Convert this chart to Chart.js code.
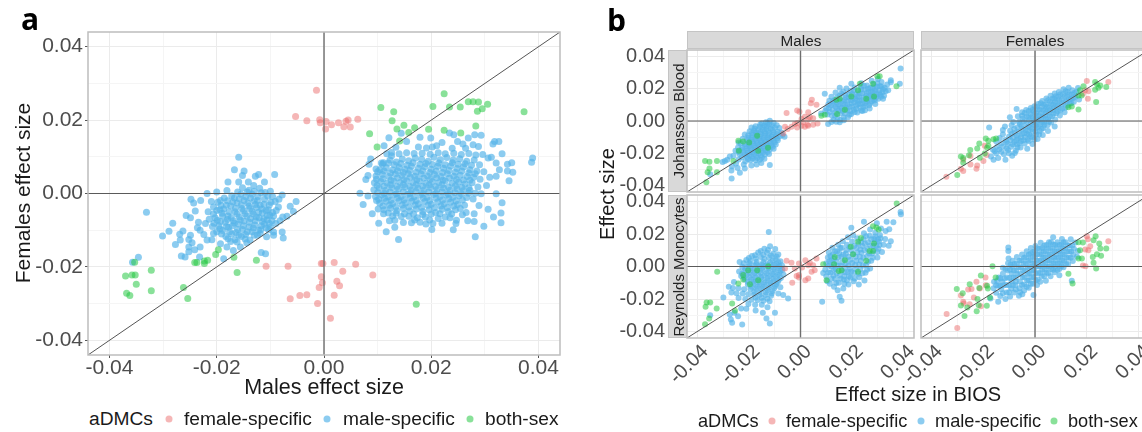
<!DOCTYPE html>
<html lang="en">
<head>
<meta charset="UTF-8" />
<title>aDMCs effect sizes</title>
<script src="https://cdn.jsdelivr.net/npm/chart.js"></script>
<style>
  html, body { margin: 0; background: #fff; overflow: hidden; width: 1142px; height: 432px; }
  body { position: relative; font-family: "Liberation Sans", Arial, sans-serif; color: #1a1a1a; }
  canvas { position: absolute; }
  .txt { position: absolute; white-space: nowrap; line-height: 1; }
  .vert { transform: translate(-50%, -50%) rotate(-90deg); }
  .mid { transform: translate(-50%, -50%); }
  .tag { font-family: "Open Sans", sans-serif; font-weight: 700; font-size: 30px; color: #000; }
  .strip { position: absolute; box-sizing: border-box; background: #d9d9d9; border: 1.5px solid #c4c4c4; }
  .dot { position: absolute; width: 7px; height: 7px; border-radius: 50%; transform: translate(-50%, -50%); }
</style>
</head>
<body>
<canvas id="a"></canvas>
<canvas id="bMalesJ"></canvas>
<canvas id="bFemalesJ"></canvas>
<canvas id="bMalesR"></canvas>
<canvas id="bFemalesR"></canvas>
<script>
  const tickValues = [-0.04, -0.02, 0, 0.02, 0.04];
  const tickLabels = ["-0.04", "-0.02", "0.00", "0.02", "0.04"];
  const minorTicks = [-0.03, -0.01, 0.01, 0.03];
  const limit = [-0.044, 0.044];
  const seriesNames = ["female-specific", "male-specific", "both-sex"];

  // all point lists are flat x,y pairs, in units of 0.001
  const aFemale = [-1.4,28.1, -5.3,21, -3.2,19.8, -.8,20.1, -.7,19.3, .4,19.6, .3,17.6, 1.4,18.7, 2.7,19.3, 3.7,18.2, 4.1,19.7, 4.5,20, 4.9,18.1, 6.3,20.2,
    -10.8,-19.8, -6.7,-19.8, -6.3,-28.7, -4.5,-27.8, -3.2,-27.6, -1.2,-30, -.5,-19.1, -.2,-19.1, 1.9,-18.8, 3.5,-21.2, 5.9,-19.3, 9.1,-22.2, -.5,-22.7, 2.4,-23.9, 2.9,-25.1, -.3,-24.3, -.9,-25.6, 1.9,-27.7, 1.2,-34];
  const aBoth = [-35.3,-18.7, -32.2,-20.9, -37,-22.5, -35.8,-22.2, -35.2,-22.2, -35,-24.7, -36.8,-27.2, -36.2,-27.8, -32.2,-26.5, -26.2,-25.6, -25.4,-28.6, -24.1,-18.8, -23.7,-18.8, -22.3,-19.1, -21.7,-18.2, -22.3,-18.4, -20.2,-16.6, -19.7,-15.3, -16.8,-17.4, -16.2,-21.5, -12.6,-18.2,
    10.6,23.4, 13,22.3, 12.7,19.8, 13.6,17.6, 14.9,18.6, 15.8,16.6, 16.9,17.9, 19.5,17.5, 8.5,16.3, 9.9,12.7, 14.1,14.3, 20.3,23.7, 22.4,27.2, 23.4,23.6, 25.4,23.6, 26.9,25, 27.8,25, 28.8,24.9, 30.5,24.3, 29.5,23.1, 28.6,22.4, 37.3,22.3, 28.3,18.4, 22.4,17.2, 25.5,16.5, 17.2,-30.2];
  const aMale = [
    // left cloud, outer points
    -33.1,-5.1, -15.9,9.9, -34.6,-17.4, -35.7,-18.7, -30.1,-11.6, -28.9,-10.3, -28.2,-8.1, -27.7,-13.9, -26.6,-17, -25.9,-17.3, -26.9,-11.1,
    -16.7,6.5, -14.9,6.1, -15.2,4.9, -12.8,4.7, -12.2,5.2, -9.2,5.2, -11.1,3.1, -17.9,3.1, -20,.4, -21.8,0, -24.8,-1.6, -23,-1.9, -24.3,-2.6, -24,-4.8, -25.7,-6, -24.9,-6.6, -26.3,-10.2, -26.8,-12.7, -25.2,-12.5, -25.2,-14.6, -25.2,-15.9, -23.2,-17.3, -23.1,-14.6, -20.9,-12.6, -18.7,-17.8, -11.7,-16.1, -10.9,-16.4, -16.9,-15.5, -7.6,-12.1, -7.8,-10.5, -9.4,-11.4, -5.7,-4.9, -5.2,-2.2, -6.3,-3.5, -7.8,-.4, -10,.6, -7.7,-6.4, -6.9,-6.2, -8.5,-3.7, -23.1,-10, -22.1,-8.2, -23.4,-7.8, -20.6,-3.7, -19.3,-1.9, -18.1,.8, -15.9,3.1, -14.1,3.1, -20.6,-10.9, -21.8,-12.7, -19.3,-13.7, -18.1,-14.6, -15.6,-14.6, -13.8,-12.7, -11.9,-10.9, -10.7,-11.8, -9.4,-10.5, -24.9,-11.4, -24.6,-13.4, -24.1,-15.3, -22.4,-11.2, -23.6,-9.3,
    // left cloud, core
    -19.8,-2.4, -18.6,-1.2, -17.2,-.6, -16.1,.4, -15.2,1.6, -14,.9, -13.1,2.2, -12,1.4, -11,.3, -9.6,-.8, -9.1,-2.2, -8.9,-4.6, -9.4,-6.1, -9,-8.2, -10,-9.2,
    -20.6,-5.6, -19.4,-4.4, -18.2,-3.2, -17,-2.3, -15.8,-1.4, -14.6,-.9, -13.4,-.2, -12.3,-.8, -11.1,-1.6, -10.2,-3.1, -19.9,-7.3, -18.9,-6.1, -17.7,-5, -16.5,-4, -15.4,-3.1, -14.2,-2.6, -13,-2, -11.9,-3.2, -10.8,-4.6, -10.1,-5.9,
    -20.8,-9, -19.6,-8.8, -18.4,-7.8, -17.3,-6.6, -16.2,-5.6, -15,-4.7, -13.8,-4.1, -12.6,-3.8, -11.5,-5.3, -10.6,-7.2, -20,-10.4, -18.9,-10.1, -17.8,-9.2, -16.7,-8.1, -15.6,-7.2, -14.4,-6.2, -13.2,-5.6, -12.1,-6.6, -11.1,-8.4, -10.3,-9.9,
    -18.3,-11.7, -17.2,-11, -16.1,-9.8, -15,-8.8, -13.9,-7.8, -12.8,-7.4, -11.7,-8.8, -16.6,-12.6, -15.4,-11.7, -14.3,-10.4, -13.2,-9.4, -12.2,-10, -17.4,-13.1, -14.7,-12.4, -13,-11.4, -21.4,-7, -21.6,-5, -21,-2.2, -8.2,-7.4, -8.4,-1.6,
    -19.2,-3.3, -18,-2, -16.7,-1.2, -15.5,-.2, -14.3,.4, -13,.6, -11.7,.2, -10.5,-.7, -9.9,-2.4, -20,-4.6, -18.7,-4.2, -17.4,-3.4, -16.2,-2.6, -14.9,-1.9, -13.7,-1.2, -12.4,-1.9, -11.2,-2.9, -10.4,-4.4, -9.6,-5.2, -20.3,-6.6, -19,-5.4, -17.9,-6.1, -16.6,-5, -15.3,-4.1, -14,-3.4, -12.8,-3, -11.6,-4.2, -10.6,-6, -9.7,-7.4,
    -20.5,-8.1, -19.3,-7.6, -18,-7.1, -16.9,-7.4, -15.8,-6.4, -14.7,-5.5, -13.4,-4.9, -12.2,-5.1, -11.2,-6.9, -10.2,-8.2, -19.4,-9.6, -18.2,-9, -17.1,-8.8, -16,-8.3, -14.9,-7.5, -13.7,-6.8, -12.6,-6.4, -11.5,-7.6, -10.8,-9.4, -19.1,-11, -17.6,-10.4, -16.4,-10.6, -15.2,-9.8, -14,-9.1, -12.9,-8.6, -11.8,-9.9, -15.9,-11.4, -14.6,-11.2, -13.4,-10.4, -12.4,-11.4, -17.9,-12.3, -16.2,-13.2, -14.4,-13.4,
    // right cloud, outer points
    38.9,9.7, 38.7,8.5, 35,8.4, 34.2,8, 35.2,5.8, 34.2,6.1, 34.5,3.5, 33.2,-2.5, 33,-5.3, 33,-8, 31.6,-6.4, 30.6,-4.3, 29.8,-8.9, 28,-7.6, 28.2,-11.8, 24.1,-9.9, 20.1,-9.8, 20.3,-8.2, 13.9,-12.5, 11.6,-10.4, 10.2,-8.1, 9,-5.5, 7.3,-3, 6.7,.1, 8.2,-.7, 7.8,3.8, 8.2,4.9, 8.4,8, 8.7,9.4, 11.2,13, 12.1,15.2, 14.4,16.4, 17.9,15.3, 19.9,15.1, 22,13.9, 23.4,16.5, 24.2,16, 26.9,15.1, 28.1,16, 29.3,15.9, 31.5,13.5, 32.6,14.2, 31.8,14.2, 33.2,10.8, 32.1,8.3, 32.7,6.5, 32.1,4.7, 31.2,9.9, 30.6,9.7, 29.6,10.6, 28.8,12.8, 27.8,13.3, 25.9,13.5, 24.9,14.2, 23.9,12.3, 21,13, 19.1,12.4, 17.6,12.7, 15.4,14.2, 12.6,10.3, 11.7,10.8, 10.7,8.3, 9.7,6.7, 30.3,2.2, 30.9,4.4, 32.1,-.1, 29.3,-.1, 28,-5.5, 28.9,-3.3, 26.5,-5.2, 24.7,-7.3, 22.6,-6.4, 17.9,-7.8, 16.3,-8, 13.2,-7.3, 11.1,-5.5, 10.1,-4.2, 9.8,-1.9,
    // right cloud, core
    11.1,8.4, 12.3,9.1, 13.5,8.6, 14.6,9.4, 15.8,8.9, 17,9.7, 18.2,9.3, 19.4,8.8, 20.5,9.9, 21.7,9.2, 22.9,9.8, 24.1,9.1, 25.3,9.5, 26.6,8.8, 28,9.1, 29,7.8,
    10.4,6.5, 11.6,7, 12.8,6.4, 14,7.1, 15.1,6.6, 16.3,7.4, 17.6,6.9, 18.8,7.3, 20,6.6, 21.2,7.4, 22.3,6.9, 23.6,7.5, 24.8,6.8, 26,7.2, 27.2,6.5, 28.5,6.1, 29.8,5.9,
    9.7,4.8, 10.9,5.2, 12.1,4.6, 13.3,5.3, 14.5,4.9, 15.7,5.4, 16.9,4.7, 18.1,5.3, 19.3,4.8, 20.6,5.2, 21.8,4.6, 23,5.4, 24.2,4.7, 25.4,5, 26.7,4.6, 27.9,4.4, 29.1,3.9,
    9.4,2.9, 10.6,3.3, 11.8,2.8, 13,3.4, 14.2,3, 15.4,3.5, 16.6,2.9, 17.8,3.4, 19,2.8, 20.2,3.3, 21.4,2.9, 22.6,3.5, 23.9,2.8, 25.1,3.1, 26.3,2.6, 27.6,2.9, 28.7,1.8,
    9.3,1, 10.3,1.5, 11.5,.9, 12.7,1.6, 13.9,1.2, 15.1,1.7, 16.3,1, 17.5,1.5, 18.7,1, 19.9,1.6, 21.1,1.1, 22.3,1.5, 23.5,.9, 24.8,1.3, 26,.8, 27.2,.9, 28.2,.1,
    9.6,-.8, 10.8,-.4, 12,-.9, 13.2,-.3, 14.4,-.8, 15.6,-.2, 16.8,-.9, 18,-.4, 19.2,-1, 20.4,-.3, 21.6,-.8, 22.8,-.4, 24,-1, 25.2,-.6, 26.6,-1.1, 27.8,-1.5,
    10.4,-2.6, 11.6,-2.1, 12.8,-2.7, 14,-2, 15.2,-2.6, 16.4,-2.1, 17.6,-2.8, 18.8,-2.2, 20,-2.9, 21.2,-2.3, 22.4,-2.8, 23.6,-2.4, 24.9,-3, 26.2,-3.2,
    11.2,-4.4, 12.4,-4, 13.6,-4.7, 14.8,-4.1, 16,-4.8, 17.2,-4.2, 18.4,-4.9, 19.6,-4.4, 20.8,-5.2, 22,-4.3, 23.2,-4.9, 24.5,-4.4, 25.8,-5.8,
    12.8,-6.1, 14.4,-6.3, 15.8,-6.2, 17.4,-6.6, 18.9,-6.4, 21.3,-6.8, 23.5,-6.6, 12.2,-7.4, 14.8,-7.9, 22,-8.1, 26.8,-7.4, 19,-8.3,
    12.6,11.2, 14,10.8, 15.4,11.1, 16.8,10.9, 18.3,11, 19.8,10.7, 21.3,11.1, 22.6,10.8, 24.2,11, 25.6,10.6, 27,10.9, 28.3,10.5, 13.4,12.6, 20.2,12.7, 26.4,12.3,
    10.9,8, 12,8.3, 13.1,7.8, 14.3,8.2, 15.5,7.7, 16.6,8.4, 17.9,8, 19,8.2, 20.2,7.9, 21.4,8.3, 22.6,7.8, 23.9,8.4, 25,8, 26.3,8.1, 27.5,7.7,
    10,5.9, 11.2,6.1, 12.4,5.6, 13.7,6.2, 14.8,5.7, 16,6.3, 17.2,5.8, 18.4,6.2, 19.7,5.7, 20.9,6.1, 22.1,5.7, 23.3,6.3, 24.5,5.8, 25.7,6.1, 27,5.6, 28.2,5.4,
    9.8,3.9, 11,4, 12.5,3.7, 13.7,4.3, 14.9,3.8, 16.1,4.4, 17.3,3.8, 18.6,4.2, 19.8,3.9, 21,4.3, 22.2,3.7, 23.4,4.2, 24.7,3.8, 26,3.7, 27.2,3.6,
    9.9,2.2, 11.2,2, 12.4,2.3, 13.6,1.9, 14.8,2.4, 16,1.9, 17.2,2.4, 18.4,2, 19.6,2.3, 20.8,1.9, 22,2.4, 23.2,1.8, 24.5,2.1, 25.7,1.7, 27,1.6,
    10,.3, 11.2,.1, 12.3,.4, 13.5,0, 14.8,.5, 16,.1, 17.1,.6, 18.3,.1, 19.5,.4, 20.8,.1, 22,.5, 23.1,0, 24.4,.3, 25.6,-.1, 27,.1,
    10.2,-1.6, 11.3,-1.3, 12.5,-1.8, 13.7,-1.2, 14.9,-1.7, 16.1,-1.2, 17.2,-1.9, 18.5,-1.3, 19.7,-1.9, 20.9,-1.3, 22.1,-1.8, 23.3,-1.4, 24.6,-2, 25.8,-1.8,
    11,-3.4, 12.2,-3.2, 13.4,-3.6, 14.6,-3.1, 15.8,-3.7, 17,-3.2, 18.2,-3.8, 19.4,-3.2, 20.6,-3.9, 21.8,-3.4, 23,-3.8, 24.2,-3.4, 25.4,-4.1,
    12,-5.3, 13.4,-5.4, 15,-5.5, 16.7,-5.6, 18.4,-5.7, 20,-5.6, 21.6,-5.5, 23.8,-5.6, 13.2,-9.2, 16.9,-7.2, 19.7,-7.2, 24.6,-8.2
  ];

  const mjFemale = [-5.4,5, -1.3,6.5, -.4,5.8, 4.4,13.1, 4,11, 3,5.4, 6.2,10, 1.7,2.7, 4.9,1.7, 3,1.3, 6.6,-1.5, 2.7,-2.3, .4,-2.9, -1.2,-1.3, -3.5,-3.5, -1.3,-4, -6,-3.5, -5,-5, -6.7,-7.7, .4,1.2, 1,-.8, 3.6,2.3, -2.2,-1.9, 1.7,-3.5, 3,-2.9, 4.9,-2.3];
  const mjBoth = [-37,-24.8, -35.3,-25.2, -32.4,-24.8, -35.3,-29.4, -36,-31.7, -32.4,-31.7, -36.5,-37.9, -26,-24.8, -24.1,-12.3, -22.2,-12.7, -19.9,-13.3, -16.8,-9.2, -23.9,-18.5, -16.4,-18.5, -12.6,-16.5,
    15.2,13.8, 13.9,13.1, 19.7,15.2, 22.3,19, 23,23.1, 28.1,23.1, 29.8,27.7, 30.7,27.7, 37.2,21.5, 25.5,13.8, 28.5,15.2, 17.2,6.9, 14.2,4.4, 9.4,3.8, 8.1,3.3];
  const mjMale = [38.8,32.5, 38.5,23.1, 35,25.2, -26.7,-35.6, -11.9,-27.3, -23.5,-32, -35,-33, -29.3,-24.8,
    // lower left cloud
    -11.9,.2, -13.4,-.8, -15,-1.6, -10.4,-1.2, -9.2,-2.6, -12.2,-2.4, -14,-3, -15.8,-3.6, -17.4,-3.2, -19,-4, -8.2,-4.4, -9.9,-4.2, -11.6,-4.6, -13.2,-5, -14.8,-5.6, -16.4,-5.4, -18,-6, -19.7,-6.4, -7.4,-7.2, -8.8,-6.6, -10.5,-7, -12.1,-7.4, -13.7,-7.8, -15.3,-8, -17,-8.2, -18.6,-8.6, -20.3,-9, -21.6,-8.4,
    -8,-9.4, -9.6,-9.6, -11.2,-9.8, -12.8,-10.2, -14.4,-10.6, -16,-11, -17.6,-11.2, -19.2,-11.6, -20.8,-11.8, -22.4,-11, -8.8,-12, -10.4,-12.4, -12,-12.6, -13.6,-13, -15.2,-13.4, -16.8,-13.6, -18.4,-14, -20,-14.4, -21.6,-14.2, -23.2,-14, -24,-13.4, -9.6,-14.6, -11.2,-15, -12.8,-15.4, -14.4,-15.8, -16,-16, -17.6,-16.4, -19.2,-16.8, -20.8,-17, -22.6,-16.6, -24.2,-16.4,
    -10.4,-17.2, -12,-17.8, -13.6,-18.2, -15.2,-18.6, -17,-19, -18.6,-19.4, -20.4,-19.6, -22.2,-19.4, -24,-19.2, -25.2,-18.4, -12.2,-20.4, -13.8,-20.8, -15.4,-21.2, -17.2,-21.6, -19,-22, -20.8,-22.2, -22.8,-22.4, -26,-21.6, -27.4,-22, -14,-23.4, -15.8,-24, -17.4,-24.4, -19.4,-24.4, -21.4,-25, -28.4,-24, -30.2,-25.4, -15.2,-26, -17,-27, -19,-27.6, -22,-27, -25,-26.4, -26.6,-28, -24.4,-29.2, -21.6,-29.4, -26.8,-30.6, -7,-8.6, -6.2,-9.8, -15.6,-2.2, -17.8,-4.6,
    -12.8,-1.4, -11.1,-2.8, -13.2,-3.4, -14.6,-4, -10.8,-5.6, -12.6,-6, -14,-6.6, -15.6,-6.8, -17.2,-7, -18.8,-7.4, -9.2,-8, -10.8,-8.6, -12.4,-8.8, -14,-9.2, -15.6,-9.6, -17.2,-9.8, -18.8,-10.2, -20.2,-10.4, -9,-10.8, -10.6,-11, -12.2,-11.2, -13.8,-11.8, -15.4,-12.2, -17,-12.4, -18.6,-12.8, -20.2,-13.2, -10,-13.4, -11.6,-13.8, -13.2,-14.2, -14.8,-14.6, -16.4,-14.8, -18,-15.2, -19.8,-15.6, -21.4,-15.8, -10.8,-16, -12.4,-16.6, -14,-17, -15.8,-17.4, -17.4,-17.8, -19,-18, -20.8,-18.4, -23,-18, -12.8,-19.2, -14.6,-19.6, -16.2,-20.2, -18,-20.4, -19.8,-21, -21.6,-20.8, -23.6,-20.6, -15,-22.6, -16.8,-23, -18.6,-23.2, -20.4,-23.6, -24,-23.8,
    // upper right cloud
    9.4,16.9, 15.2,20.6, 19.7,23.1, 23.6,23.4, 30,26, 35,24, 32.6,20.6, 34,19, 32,13.8, 28.8,12.7, 23.6,6.5, 19.7,4.4, 15.2,-.8, 10.7,-1.9, 33.6,22.6, 31.4,24.2, 27.6,25,
    8,4.6, 9.6,6.2, 11,8, 12.2,3.2, 12.8,.6, 13.6,5.4, 14.4,2.2, 10.8,10.4, 11.2,12.6, 12,15, 12.8,10.4, 13.2,13, 13.6,17.6, 14.2,7.8, 14.8,10.2, 15.2,15.6, 15.6,5, 16,8.2, 16.2,12.4, 16.6,18.2, 16.8,2.4, 17.2,10.2, 17.6,14.4, 17.8,20.2, 18,6.6, 18.4,12.6, 18.8,16.4, 19,8.8, 19.4,18.8, 19.8,11, 20.2,14.4, 20.6,7, 21,20.8, 21.2,16.6, 21.6,9.4, 21.8,12.8, 22.4,18.4, 22.6,15, 23,10.6, 23.4,21.2, 23.8,13, 24,17, 24.4,8.6, 24.8,19.4, 25,11.2, 25.4,15.6, 25.8,22, 26,13.2, 26.4,18.2, 26.6,9.8, 27,20.4, 27.2,15.8, 27.6,12.2, 28,17.8, 28.4,22.8, 28.6,14.6, 29,20, 29.4,16.8, 29.8,23.4, 30.2,13.8, 30.6,19, 31,16.2, 31.4,21.4, 31.8,17.8, 32.4,15.6, 33,18.4, 25,6.6, 22,5.2, 18.4,2.4, 15.4,.6, 12,-.6, 26.8,7.8, 29,10.6,
    10,7.8, 10.4,4, 11.4,5.6, 11.8,9.6, 12.4,7, 12.6,12.2, 13.4,3.2, 13.6,8.8, 14,11.4, 14.2,14.6, 14.8,6.4, 15,12.4, 15.4,8.8, 15.8,17, 16.4,6.2, 16.6,10.6, 17,13.2, 17.2,4.6, 17.4,16.2, 17.8,8.2, 18.2,10.4, 18.8,14.6, 19.2,6, 19.6,12.8, 20,16.8, 20,9, 20.6,19, 20.8,11.6, 21.2,13.8, 21.6,7.6, 22,15.4, 22.2,10.6, 22.8,12.6, 23,17, 23.2,8.2, 23.6,19.6, 24,11, 24.4,14.6, 24.6,21.8, 25.2,9.4, 25.6,17.4, 25.8,12.2, 26.2,20, 26.4,14.8, 27,11, 27.4,18.2, 27.8,15, 28,20.8, 28.4,13.4, 28.8,18.6, 29.4,14.8, 29.6,21.2, 30.4,17.2, 30.8,21.6, 31.2,15, 32,19.6, 24,6.2, 21,5.6, 19,3.8, 16.8,.4, 13.8,-.4];

  const fjFemale = [20,24.8, 28.3,24.2, 19.4,19, 20.6,18.5, 20.4,13.8, 18.5,16.9, -34.2,-34.6, -27.7,-31, -28.6,-29.6, -24.9,-26.9, -22.3,-27.5, -22.6,-29.6, -19.9,-24.8, -24.9,-21.7, -19.4,-15.4, -18.7,-21, -27.7,-23.8];
  const fjBoth = [-30,-33.5, -28.6,-22, -27.7,-23, -27.7,-25.8, -25.5,-21.2, -25,-18, -22.3,-17, -21.5,-14, -21.3,-22.7, -19,-10.8, -18,-12.3, -18.5,-16.5, -18,-15.4, -16,-11.3, -15,-10.8, -19.4,-20.2,
    16.8,7.1, 23.6,11.7, 12.9,8.5, 14.2,9, 16.8,15.8, 18,15.8, 18.7,21.5, 23.2,24.2, 23.9,22.7, 25.2,22, 27.5,21, 23.2,19.4, 24.5,20.6, 17.4,19];
  const fjMale = [-17.7,-4, -9.7,2.3, -7.1,7.5, -17,-22, -16,-24, -15,-20, -14.2,-23, -13,-19, -11.4,-24, -11,-17, -16.2,-17.8, -14.6,-16, -13,-14, -15,-12.6, -13.6,-10.6, -12.4,-8.2, -11.4,-11.8, -12.4,-5.6, -11.6,-3.4,
    -10,-20, -9.2,-16, -8.8,-21.6, -8,-13, -10.6,-14.2, -10,-9.6, -9.6,-6, -9,-2.6, -8.4,-.6, -8.6,-10.4, -7.8,-7.4, -7.4,-18.4, -7,-14.6, -6.6,-10.6, -6.8,-4, -6.2,-.6, -6.6,3, -5.6,-16.4, -5.4,-12.4, -5,-8, -5.2,-3.2, -4.8,1.4, -5,5.4, -4,-14, -3.8,-10, -3.6,-5.6, -3.4,-1.6, -3.2,3, -3.4,6.8,
    -2.4,-12.4, -2.2,-8.4, -2,-4, -2.2,.6, -1.8,4.4, -1.6,8, -1,-10, -.8,-6.4, -.6,-2.4, -.8,1.8, -.4,5.8, -.2,9.2, .4,-8.4, .6,-4.4, .8,-.6, .6,3.2, 1,7, 1.2,10.6, 1.8,-6.2, 2,-2.2, 2.2,1.4, 2.4,5, 2.6,8.8, 2.8,12.4, 3.2,-4.4, 3.6,-.6, 3.8,3.2, 4,7, 4.2,10.4, 4.4,14, 4.8,-2.6, 5,1.2, 5.2,5, 5.4,8.4, 5.8,12, 6,15.6,
    6.2,-1, 6.6,3, 6.8,6.6, 7,10, 7.4,13.8, 7.6,17, 7.8,1, 8.2,4.8, 8.4,8.2, 8.6,11.6, 9,15, 9.2,18, 9.6,3.4, 9.8,6.6, 10.2,10, 10.4,13.4, 10.8,16.6, 11,19.6, 11.4,5.4, 11.8,8.4, 12,12, 12.4,14.8, 12.6,18, 13,20.6, 13.4,10.8, 13.8,13.6, 14.2,16.4, 14.4,19, 15,12, 15.6,15, 16,18.2, 16.6,20.4, 17,13.4, -3,-17.2, -1,-14.2, 1,-11.2, 3,-8.6, 5,-6.2, 7.6,-3.4,
    -15.6,-18.8, -13.8,-17.6, -12.4,-15.8, -12,-20.6, -11,-13, -10.4,-18, -9.4,-11.8, -9,-8, -8.6,-14.4, -8,-5, -7.8,-19.8, -7.2,-11.8, -7,-9, -6.8,-16.4, -6.2,-6.6, -6,-13.6, -5.8,-1.8, -5.4,-10, -5,3.2, -4.6,-4.8, -4.4,-12, -4.2,-7.6, -4.2,-.2, -4,5, -3,-8, -2.8,-11.6, -2.6,-3.4, -2.6,2.4, -2.6,-6, -2.4,6.2, -1.6,-9.4, -1.4,-1.2, -1.2,-5, -1,3, -1,6.8, -.2,-11.4, -.2,-.4, .2,-6.4, .2,1.2, .2,-2.6, .4,5, .6,8.8, 1.2,-3.6, 1.4,.6, 1.6,-8.4, 1.6,3.4, 1.8,7, 2.2,11, 2.6,-5, 2.8,-.8, 3,3, 3.2,6.6, 3.4,10.2, 3.6,-2.4, 4.2,1.4, 4.4,5.2, 4.6,8.6, 5,12.8, 5.4,-.4, 5.8,3, 6,6.8, 6.4,10.4, 6.8,14, 7.2,4.6, 7.4,8.2, 7.8,11.8, 8,15.4, 8.8,6.2, 9,9.8, 9.4,13.2, 9.8,16.6, 10.6,7.8, 11,11.4, 11.4,15, 11.8,18.4, 12.6,9.8, 13,13.2, 13.2,16.4, 14,11, 14.8,14.2, 15.2,17.4];

  const mrFemale = [-5.4,3.5, -3.5,2.3, -.6,1.8, 1.9,3.9, 3.6,2.3, 6.2,4.9, 4.9,.8, 5.5,-2.3, 4.3,-3.3, 3,-7.4, 1.9,-8.4, -.6,-5.3, -1.5,-5.9, -3.2,-10, -6,-1.2, .6,-.6, -.6,-6.8, -2.2,-1.2, 3,.8];
  const mrBoth = [37.3,38.7, 28.1,24.8, 29.4,24, 30.3,22.7, 23.4,17.6, 22.3,15.2, 28.5,14.1, 26.8,9.6, 28.1,9.6, 19.5,12.1, 20.4,7.6, 25.5,3.5, 17.2,3.9, 13.3,5.9, 13,1.4, 15.9,-2.3, 14.8,-2.7, 22.3,-3.3, 10.1,-8.4, 8.8,1.4,
    -32.3,-3.3, -22.2,-5.3, -22.2,-8, -24.1,-10.5, -20.3,-2.3, -16.8,-2.3, -12.5,.2, -19.6,-10.9, -16.4,-8.4, -26.5,-22.7, -25.4,-27.3, -32.5,-25.8, -36.8,-24.8, -36.4,-22.1, -35,-22.1, -35.4,-32, -37,-35.5];
  const mrMale = [-12.3,21.3, 19.7,23.8, 24.6,27.5, 38.8,33.6, 38.9,32.2, 8.4,-21.7, 15.9,-21.1, 15.2,-18.6, -11.9,-35, -9.9,-28.5, -13.2,-32, -4.8,-19.7, -8.6,-16.6, -6.7,-17.6, -26.5,-34.6, -22.6,-35.7, -29.9,-19, -35,-30,
    // left cloud
    -14,11, -11.8,12.4, -9.8,10.8, -16.4,8.6, -13,8.4, -10.6,7.8, -8.6,7.4, -18.8,6.4, -15.4,5.8, -12.2,5.4, -9.8,4.6, -7.8,3.2, -21,4, -23.6,2.8, -19.4,3.4, -17,3, -14.4,2.8, -11.8,2.4, -9.4,1.6, -7.2,.8, -22.6,-.2, -20.2,.2, -18,.6, -15.8,.2, -13.6,.4, -11.2,-.2, -9,-.8, -7,-2,
    -23.8,-3, -21.6,-2.6, -19.2,-2.4, -17,-2.8, -14.8,-2.2, -12.6,-2.8, -10.4,-3.2, -8.2,-3.8, -6.6,-5, -23,-5.8, -20.8,-5, -18.4,-5.4, -16.2,-5.2, -14,-5.6, -11.8,-5.8, -9.6,-6.2, -7.6,-7, -21.6,-8, -19.2,-8, -17.2,-8.4, -15,-8, -12.8,-8.6, -10.6,-9, -8.8,-9.6, -20.4,-11, -18.2,-10.8, -16,-11, -14,-11.2, -11.8,-11.6, -9.8,-12, -7.8,-12.8,
    -25.8,-9.6, -27.8,-12.4, -26.2,-13.2, -24,-13.4, -21.8,-14, -19.4,-13.8, -17.2,-13.8, -15,-14, -12.8,-14.4, -10.8,-15, -26.8,-16, -24.8,-16.4, -22.4,-16.6, -20.2,-17, -18,-17.2, -15.8,-17.4, -13.6,-17.6, -11.4,-18, -24,-19.4, -21.4,-20, -19,-20.4, -16.6,-20.6, -14.4,-21, -12,-21.4, -20.2,-23, -17.6,-23.6, -15,-23.6, -12.8,-25, -27.4,-29.6, -25.6,-28.4, -23,-25.8, -21,-26, -17.4,-27, -14.6,-28.4, -24.2,-30.6, -27,-32.6,
    -15.4,9.6, -12.6,10.2, -17.6,7, -14.4,7.2, -11.4,6.8, -9.2,6, -20,5.2, -17.4,5, -14,4.6, -10.8,3.6, -8.6,2.6, -22,2, -19.8,1.8, -17.2,1.6, -15,1.2, -12.8,1.4, -10.4,1, -8.2,.2, -21.4,-1.2, -19,-1, -16.8,-1.2, -14.6,-.8, -12.2,-1.2, -10,-1.8, -7.8,-2.6, -22.6,-4.4, -20,-3.8, -17.8,-4, -15.4,-3.8, -13.2,-4.2, -11,-4.6, -8.8,-5, -21.8,-6.6, -19.6,-6.6, -17.4,-6.8, -15.2,-6.6, -12.8,-7, -10.6,-7.6, -8.4,-8.2, -20.4,-9.4, -18.2,-9.4, -16,-9.6, -13.8,-9.8, -11.6,-10.2, -9.4,-10.8, -19,-12.4, -16.8,-12.4, -14.6,-12.6, -12.4,-13, -10.2,-13.4, -18,-15.6, -15.8,-15.8, -13.4,-16, -11.2,-16.6, -17.4,-19, -15,-19.2, -12.8,-19.8,
    // right cloud
    10,-6, 9.6,-2, 10,2, 10.6,5.6, 11,8.6, 11.4,-10.6, 11.6,-3.8, 12,0, 12,3.8, 12.6,7.6, 12.4,11.6, 13,-12.4, 13.4,-7.6, 13.6,-1.4, 14,3, 14.2,9.4, 14.6,13.4, 14.8,-10, 15.2,-5.6, 15.6,.4, 15.8,6, 16,11.6, 16.4,15.6, 16.6,-13.6, 16.8,-8, 17.2,-3.6, 17.6,2, 17.6,8, 18,13.4, 18.4,18, 18.6,-11, 18.8,-6, 19.2,-1.4, 19.4,4.2, 19.8,10, 20,15.4, 20.4,19.2, 20.6,-9, 20.8,-4, 21.2,1, 21.4,6, 21.8,11.6, 22,17.4, 22.6,-11, 22.8,-6.6, 23.2,-1.6, 23.4,3.6, 23.6,8.4, 24,12.6, 24.4,17, 24.6,20.4, 24.8,-8.6, 25.2,-3.8, 25.4,1, 25.8,6.4, 26,11, 26.2,15, 26.8,19, 27,22.8, 27,-1.2, 27.4,3.6, 27.8,8, 28.2,12.6, 28.6,17, 29,20.8, 29.6,26.6, 29.8,5.6, 30.2,11, 30.4,15.4, 30.8,19.4, 31.2,23.4, 31.6,9, 32.2,13.4, 32.8,17, 33,21.8, 33.4,27.6, 34.4,23, 35,15.6, 34.2,12.8, 36,27.2, 12.8,-5.6, 10.4,-9, 14.4,-14.6, 8.8,-4,
    10.8,-3.6, 11,.4, 11.2,3.2, 11.6,6.4, 12,-7.6, 12.8,-2.2, 13,1.6, 13,5, 13.4,9.4, 13.8,-10.2, 14,-4.2, 14.4,.4, 14.6,5.6, 15,8.2, 15.4,11.4, 15.6,-7.6, 16,-2.6, 16.2,2.6, 16.6,7.4, 17,-10.6, 17,-5.8, 17.2,-.8, 17.4,4.6, 17.8,10.2, 18,-8.4, 18.4,-3.4, 18.6,.8, 18.6,6, 19,12, 19.4,-6.8, 19.6,-3.2, 20,2.2, 20.2,7.6, 20.8,12.6, 21,-7.4, 21.4,-1.6, 21.6,3.6, 22,8.6, 22.4,14, 22.4,-4.4, 22.8,1.2, 23,6, 23.2,10.4, 23.6,15, 24,-4.2, 24.2,.6, 24.4,5.4, 24.8,10, 25,14, 25.4,18.6, 25.8,-2, 26.2,3, 26.6,8, 27,13, 27.4,16.8, 28,5.4, 28.4,10, 28.8,15, 29,18.4, 29.4,12.6, 29.8,9, 30,16.8, 30.6,13.2, 31,17.4];

  const frFemale = [20,18.6, 20.4,16.8, 21.3,12.5, 19.4,10.5, 20.6,10, 28.3,15.6, 18.5,.6, 19.5,.2, -34.1,-29.3, -30,-37.9, -28.6,-17.8, -25.8,-14.1, -24.5,-13.9, -22.6,-9.4, -19.1,-6.8, -21.3,-13.5, -23.6,-19, -27.7,-21.7, -27.5,-22.7, -25.2,-23.2, -20.9,-24.4, -19,-11.5];
  const frBoth = [-30.2,-13.9, -27.9,-16.4, -25.2,-10.9, -20.9,-5.5, -21.5,-13.3, -18.5,-11.9, -18.2,-13.5, -22.2,-20, -28.6,-24, -26.1,-25.2, -27.2,-30.5, -22.5,-27.5, -21.7,-23.8, -18.6,-24.2, -17.4,-19, -16.4,.2, -15.2,-6.8,
    23.4,18.6, 24.8,14.1, 22.6,16.2, 18.5,14.8, 16.8,15, 25.2,11.1, 27.5,11.1, 23.9,7.6, 22.3,5.9, 25.5,6.6, 22.6,2.3, 23.6,-1.2, 18.1,4.9, 16.8,4.9, 17.4,10, 12.9,-4.5, 14.5,-10.5];
  const frMale = [7,18, -10.3,11.7, -10.3,9.6, 14.2,-8.8, -.6,-17.6, -4.9,-17, -14.2,-21.7, -17.2,-19.7, -16,-13.4, -15.8,-9.4, -15,-16.2, -14.2,-11.8, -14,-6.8, -13.4,-18.2, -13,-14, -12.6,-9.4, -12.4,-4.4, -12.4,-.8, -11.4,-20, -11,-16, -11,-11.4, -10.8,-6.8, -10.6,-2.4, -10.4,2, -10.2,5,
    -9.6,-18.4, -9.2,-13.6, -9,-9, -9,-4.4, -8.8,-.2, -8.6,3.6, -8,-16, -7.6,-11.4, -7.4,-6.8, -7.2,-2.4, -7,1.8, -7,5.8, -6.2,-18, -6,-13.4, -5.8,-9.2, -5.6,-4.6, -5.4,-.4, -5.2,3.8, -5,7.4, -4.2,-14.8, -4.2,-11, -4,-6.8, -3.8,-2.4, -3.6,1.8, -3.4,5.8, -3.2,9.4, -2.4,-13, -2.4,-8.6, -2.2,-4.2, -2,-.2, -1.8,4, -1.6,7.8, -1.6,11.4, -.8,-10.6, -.6,-6.4, -.4,-2.2, -.2,2, 0,5.8, 0,9.4, .2,12.6,
    .8,-11.4, 1,-8, 1.2,-4, 1.4,0, 1.6,3.6, 1.8,7.6, 1.8,11, 2.2,14.6, 2.6,-6, 2.8,-2, 3,2, 3.2,5.6, 3.4,9.4, 3.6,13, 4.2,-8.8, 4.4,-3.8, 4.6,0, 4.8,3.8, 5,7.6, 5.2,11.4, 5.4,15, 6,-6, 6.2,-1.6, 6.4,2, 6.6,5.8, 6.8,9.6, 7,13.4, 7.6,-3.6, 7.8,0, 8,3.8, 8.2,7.6, 8.4,11.4, 8.6,15, 9.4,-5.4, 9.4,-1.6, 9.6,2, 9.8,5.8, 10,9.6, 10.2,13.4, 10.4,17, 11,-.4, 11.2,3.4, 11.4,7.2, 11.6,11, 11.8,15, 12.8,1.6, 13,5.4, 13.2,9.2, 13.4,13, 13.8,16.8, 14.6,3.4, 14.8,7.2, 15,11, 15.6,14.8, 16.2,6, 16.6,9.6,
    -15,-11.6, -14.6,-8.8, -13.4,-12, -13.4,-7.2, -12.4,-16.4, -12,-11.6, -11.8,-7.4, -11.4,-1.4, -10,-15.8, -10,-11.6, -9.8,-7, -9.6,-2, -9.4,1.2, -8.6,-11.6, -8.4,-6.8, -8.2,-2.4, -8,1.6, -7.4,-14.2, -7.4,-9.2, -6.8,-4.6, -6.4,-.4, -6,3.6, -5.8,-15.8, -5,-11.4, -4.8,-6.4, -4.6,-2.4, -4.4,1.6, -4.2,5.4, -3.2,-12.4, -3,-8.6, -2.8,-4.6, -2.8,-.6, -2.6,3.4, -2.4,7.4, -1.6,-10.6, -1.4,-6.6, -1.2,-2.4, -1,1.8, -1,5.8, -.8,9, .2,-8.4, .2,-4.2, .4,0, .6,3.6, .8,7.6, 1,11.2, 2,-9.4, 2,-4, 2.2,0, 2.4,3.8, 2.6,7.6, 2.8,11.4, 3.6,-5.8, 3.8,-2, 4,1.8, 4,5.6, 4.2,9.6, 4.4,13.2, 5.2,-4, 5.4,-.2, 5.6,3.8, 5.8,7.6, 6,11.4, 6.2,15, 7,-2, 7.2,1.8, 7.4,5.6, 7.6,9.4, 7.8,13.2, 8.6,-2.2, 8.8,1.8, 9,5.6, 9.2,9.4, 9.4,13.2, 10.2,.2, 10.4,3.8, 10.6,7.6, 10.8,11.4, 11,15, 12,1.6, 12.2,5.4, 12.4,9.2, 12.6,13, 13.8,5.4, 14,9.2, 14.4,13];

  // plot frames in page pixels; the Females column runs past the window edge like the original
  const frames = {
    a: { x: 88, y: 32, w: 472, h: 323 },
    bMalesJ: { x: 687, y: 49.5, w: 227, h: 142.5 },
    bFemalesJ: { x: 921, y: 49.5, w: 228, h: 142.5 },
    bMalesR: { x: 687, y: 195, w: 227, h: 143 },
    bFemalesR: { x: 921, y: 195, w: 228, h: 143 }
  };

  const colours = { female: "rgba(236,110,110,0.5)", male: "rgba(86,180,233,0.68)", both: "rgba(40,200,70,0.55)" };

  function toPoints(flat) {
    const out = [];
    for (let i = 0; i < flat.length; i += 2) out.push({ x: flat[i] / 1000, y: flat[i + 1] / 1000 });
    return out;
  }

  function refLine(points, colour, width) {
    return { data: points, showLine: true, pointRadius: 0, borderColor: colour, borderWidth: width, fill: false };
  }

  const frameBox = {
    id: "frameBox",
    afterDraw(chart) {
      const { ctx, chartArea: c } = chart;
      ctx.save();
      ctx.strokeStyle = "#bdbdbd";
      ctx.lineWidth = 1.5;
      ctx.strokeRect(c.left, c.top, c.right - c.left, c.bottom - c.top);
      ctx.restore();
    }
  };

  function drawPanel(id, female, male, both, opts) {
    const f = frames[id], pad = 12;
    const cv = document.getElementById(id);
    cv.width = opts.yw + f.w + pad;
    cv.height = pad + f.h + opts.xh;
    cv.style.left = (f.x - opts.yw) + "px";
    cv.style.top = (f.y - pad) + "px";

    const setTicks = s => { s.ticks = [...tickValues, ...minorTicks].sort((p, q) => p - q).map(v => ({ value: v })); };
    const label = v => { const i = tickValues.indexOf(v); return i < 0 ? "" : tickLabels[i]; };
    const gridColour = ctx => tickValues.includes(ctx.tick.value) ? "#ebebeb" : "#f5f5f5";
    const tickColour = ctx => tickValues.includes(ctx.tick.value) ? "#555" : "rgba(0,0,0,0)";

    new Chart(cv, {
      type: "scatter",
      data: {
        datasets: [
          refLine([{ x: limit[0], y: 0 }, { x: limit[1], y: 0 }], "#5a5a5a", 1.2),
          refLine([{ x: 0, y: limit[0] }, { x: 0, y: limit[1] }], "#6e6e6e", 1.4),
          refLine([{ x: limit[0], y: limit[0] }, { x: limit[1], y: limit[1] }], "#555", 1),
          { label: seriesNames[2], data: toPoints(both), backgroundColor: colours.both, pointRadius: opts.r, borderWidth: 0 },
          { label: seriesNames[0], data: toPoints(female), backgroundColor: colours.female, pointRadius: opts.r, borderWidth: 0 },
          { label: seriesNames[1], data: toPoints(male), backgroundColor: colours.male, pointRadius: opts.r, borderWidth: 0 }
        ]
      },
      plugins: [frameBox],
      options: {
        responsive: false,
        animation: false,
        events: [],
        layout: { padding: { top: pad, right: pad, left: 0, bottom: 0 } },
        plugins: { legend: { display: false }, tooltip: { enabled: false } },
        scales: {
          x: {
            type: "linear", min: limit[0], max: limit[1],
            afterBuildTicks: setTicks,
            afterFit: s => { s.height = opts.xh; s.paddingLeft = 0; s.paddingRight = 0; },
            border: { display: false },
            grid: { color: gridColour, tickColor: tickColour, tickLength: opts.tickLen, lineWidth: 1 },
            ticks: {
              display: opts.xLabels, autoSkip: false, callback: label, color: "#4d4d4d",
              font: { family: "Liberation Sans", size: opts.size },
              maxRotation: opts.rot, minRotation: opts.rot, padding: opts.xPad, labelOffset: opts.xOffset
            }
          },
          y: {
            type: "linear", min: limit[0], max: limit[1],
            afterBuildTicks: setTicks,
            afterFit: s => { s.width = opts.yw; s.paddingTop = 0; s.paddingBottom = 0; },
            border: { display: false },
            grid: { color: gridColour, tickColor: tickColour, tickLength: opts.tickLen, lineWidth: 1 },
            ticks: {
              display: opts.yLabels, autoSkip: false, callback: label, color: "#4d4d4d",
              font: { family: "Liberation Sans", size: opts.size }, padding: opts.yPad
            }
          }
        }
      }
    });
  }

  const bCommon = { r: 3, size: 20, rot: 45, tickLen: 0, xPad: 2, xOffset: 8, yPad: 22 };
  drawPanel("a", aFemale, aMale, aBoth, { yw: 88, xh: 40, r: 3.5, size: 21, rot: 0, tickLen: 3, xPad: -2, xOffset: 0, yPad: 2, xLabels: true, yLabels: true });
  drawPanel("bMalesJ", mjFemale, mjMale, mjBoth, { ...bCommon, yw: 70, xh: 4, xLabels: false, yLabels: true });
  drawPanel("bFemalesJ", fjFemale, fjMale, fjBoth, { ...bCommon, yw: 4, xh: 4, xLabels: false, yLabels: false });
  drawPanel("bMalesR", mrFemale, mrMale, mrBoth, { ...bCommon, yw: 70, xh: 60, xLabels: true, yLabels: true });
  drawPanel("bFemalesR", frFemale, frMale, frBoth, { ...bCommon, yw: 30, xh: 60, xLabels: true, yLabels: false });

  // text and strips around the plots
  function addText(str, x, y, size, cls, colour) {
    const d = document.createElement("div");
    d.className = "txt " + (cls || "");
    d.textContent = str;
    d.style.left = x + "px";
    d.style.top = y + "px";
    if (size) d.style.fontSize = size + "px";
    if (colour) d.style.color = colour;
    document.body.appendChild(d);
  }
  function addStrip(x, y, w, h) {
    const d = document.createElement("div");
    d.className = "strip";
    d.style.cssText = `left:${x}px;top:${y}px;width:${w}px;height:${h}px`;
    document.body.appendChild(d);
  }
  function addDot(x, y, colour) {
    const d = document.createElement("div");
    d.className = "dot";
    d.style.cssText = `left:${x}px;top:${y}px;background:${colour}`;
    document.body.appendChild(d);
  }

  addText("a", 21, 4, 0, "tag");
  addText("b", 607, 5, 0, "tag");

  addText("Males effect size", 324, 388, 21.5, "mid");
  addText("Females effect size", 22, 193, 21, "vert");
  addText("Effect size in BIOS", 918, 394, 20, "mid");
  addText("Effect size", 607, 194, 20, "vert");

  addStrip(687, 31, 227, 18);
  addStrip(921, 31, 228, 18);
  addStrip(668, 49.5, 19, 142.5);
  addStrip(668, 195, 19, 143);
  addText("Males", 801, 40.5, 15.3, "mid", "#222");
  addText("Females", 1035, 40.5, 15.3, "mid", "#222");
  addText("Johansson Blood", 678, 120.5, 15, "vert", "#222");
  addText("Reynolds Monocytes", 678, 266.5, 15, "vert", "#222");

  // legends
  addText("aDMCs", 89, 409.4, 19.2);
  addDot(169, 419, colours.female);
  addText(seriesNames[0], 184, 409.4, 19.2);
  addDot(327, 419, colours.male);
  addText(seriesNames[1], 343, 409.4, 19.2);
  addDot(470, 419, colours.both);
  addText(seriesNames[2], 485, 409.4, 19.2);

  addText("aDMCs", 698, 412, 18.2);
  addDot(772, 421, colours.female);
  addText(seriesNames[0], 786, 412, 18.2);
  addDot(921, 421, colours.male);
  addText(seriesNames[1], 935, 412, 18.2);
  addDot(1054, 421, colours.both);
  addText(seriesNames[2], 1068, 412, 18.2);
</script>
</body>
</html>
